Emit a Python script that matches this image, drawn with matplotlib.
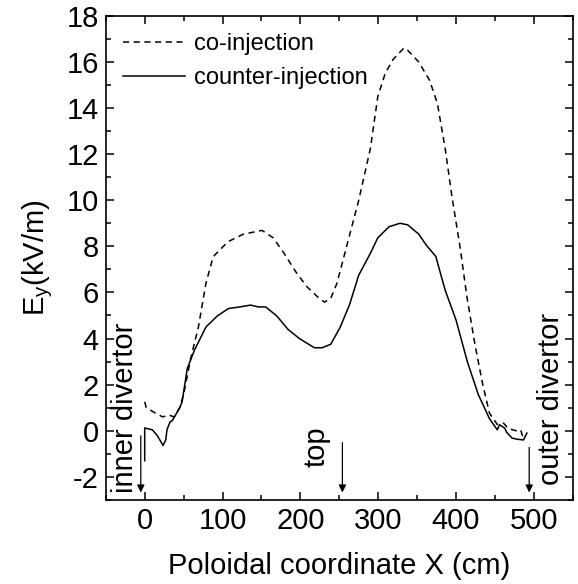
import matplotlib
matplotlib.use("Agg")
import matplotlib.pyplot as plt
from matplotlib.ticker import MultipleLocator

plt.rcParams["font.family"] = ["Liberation Sans", "DejaVu Sans"]
plt.rcParams["mathtext.fontset"] = "custom"
plt.rcParams["mathtext.rm"] = "Liberation Sans"
plt.rcParams["mathtext.it"] = "Liberation Sans"
plt.rcParams["axes.unicode_minus"] = False

# co-injection (dashed)
co_x = [0, 2, 12, 23, 31, 38, 45, 50, 59.5, 69, 78.7, 88, 107, 127, 150.7, 165,
        179, 194, 208, 223, 231, 239, 247, 261, 275, 290, 299.5, 309, 319, 333,
        338, 352, 366, 376, 386, 395, 405, 414, 424, 434, 443, 453, 461, 467,
        477, 483, 486]
co_y = [1.25, 1.0, 0.8, 0.6, 0.68, 0.6, 1.0, 1.57, 3.2, 4.5, 6.4, 7.55, 8.2, 8.53,
        8.69, 8.37, 7.7, 6.9, 6.26, 5.78, 5.58, 5.74, 6.4, 8.2, 10.0, 12.25, 14.5,
        15.5, 16.1, 16.6, 16.5, 16.0, 15.2, 14.2, 12.25, 10.1, 8.0, 5.8, 3.8, 2.05,
        0.76, 0.27, 0.33, 0.1, 0.0, 0.04, -0.3]

# counter-injection (solid)
cnt_x = [0, 0, 9.8, 16, 23.6, 27, 28.6, 32.5, 35.5, 41.6, 45, 48, 54.7, 64, 78.7,
         93, 107.5, 122, 136, 146, 155.5, 170, 184, 198.7, 218, 228, 239, 251,
         263, 275, 290, 299.5, 314, 328, 338, 352, 362, 374, 386, 400, 414.5,
         428.6, 443, 453, 456, 462.6, 465, 472, 479, 486.6, 491]
cnt_y = [-1.3, 0.12, 0.04, -0.2, -0.64, -0.4, 0.04, 0.38, 0.44, 0.8, 1.0, 1.25,
         2.7, 3.5, 4.5, 4.97, 5.3, 5.37, 5.45, 5.37, 5.37, 4.97, 4.4, 4.0, 3.6,
         3.6, 3.75, 4.48, 5.45, 6.75, 7.7, 8.37, 8.85, 9.0, 8.93, 8.53, 8.04,
         7.56, 6.1, 4.8, 3.0, 1.57, 0.52, 0.04, 0.26, 0.11, -0.07, -0.32, -0.37,
         -0.4, -0.1]

fig = plt.figure(figsize=(5.78, 5.84), dpi=100)
ax = fig.add_axes([0.183, 0.144, 0.808, 0.829])

ax.plot(co_x, co_y, color="k", lw=1.1, linestyle=(0, (4, 3)), label="co-injection")
ax.plot(cnt_x, cnt_y, color="k", lw=1.1, label="counter-injection")

ax.set_xlim(-50, 550)
ax.set_ylim(-3, 18)
ax.xaxis.set_major_locator(MultipleLocator(100))
ax.xaxis.set_minor_locator(MultipleLocator(50))
ax.yaxis.set_major_locator(MultipleLocator(2))
ax.yaxis.set_minor_locator(MultipleLocator(1))
ax.tick_params(which="both", direction="in", top=True, right=True, width=1.1)
ax.tick_params(which="major", length=6, labelsize=21, pad=5)
ax.tick_params(which="minor", length=3.5)
for s in ax.spines.values():
    s.set_linewidth(1.2)

ax.set_xlabel("Poloidal coordinate X (cm)", fontsize=21, labelpad=12)
ax.set_ylabel("E$_y$(kV/m)", fontsize=21, labelpad=8)

ax.legend(loc="upper left", frameon=False, fontsize=17, handlelength=2.6,
          handletextpad=0.4, borderaxespad=0.45, labelspacing=0.5,
          borderpad=0.3)

# divertor / top markers
arrow = dict(arrowstyle="-|>", lw=0.9, color="k", mutation_scale=11)
ax.annotate("", xy=(-5, -2.8), xytext=(-5, -0.1), arrowprops=arrow)
ax.annotate("", xy=(254, -2.8), xytext=(254, -0.4), arrowprops=arrow)
ax.annotate("", xy=(494, -2.8), xytext=(494, -0.6), arrowprops=arrow)

ax.text(-25, 1.0, "inner divertor", rotation=90, ha="center", va="center", fontsize=21)
ax.text(221, -0.7, "top", rotation=90, ha="center", va="center", fontsize=21)
ax.text(522, 1.4, "outer divertor", rotation=90, ha="center", va="center", fontsize=21)

fig.savefig("out.png", dpi=100)
